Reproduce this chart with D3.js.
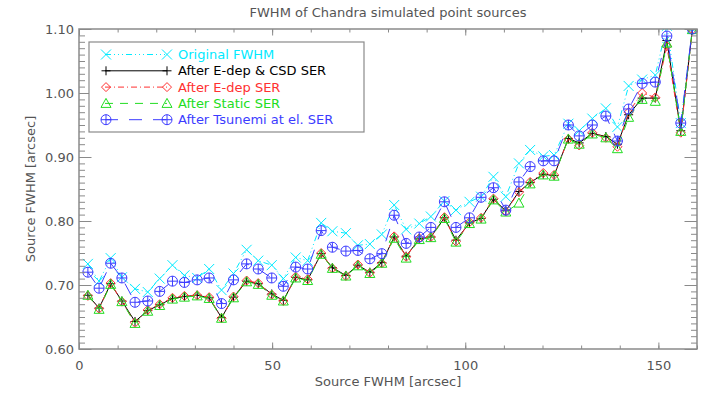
<!DOCTYPE html>
<html>
<head>
<meta charset="utf-8">
<script src="https://cdn.jsdelivr.net/npm/d3@7"></script>
<style>
body { margin: 0; background: #fff; }
text { font-family: "DejaVu Sans", sans-serif; }
</style>
</head>
<body>
<div id="fwhmPlot"></div>
<script>
// source FWHM of each simulated source (x)
const sourceFwhm = [2.3, 5.2, 8.2, 11.1, 14.5, 17.8, 20.9, 24.2, 27.3, 30.6, 33.7, 36.9, 40.0, 43.4, 46.4, 49.9,
    52.9, 56.1, 59.2, 62.7, 65.6, 69.1, 72.2, 75.3, 78.4, 81.6, 84.7, 88.1, 91.1, 94.6, 97.6, 101.1, 104.1,
    107.3, 110.5, 113.9, 116.8, 120.2, 123.0, 126.7, 129.5, 132.9, 136.4, 139.4, 142.3, 145.8, 149.2, 152.2,
    155.8, 158.8]

const originalFwhm = [0.733, 0.706, 0.742, 0.712, 0.694, 0.689, 0.710, 0.731, 0.715, 0.711, 0.725, 0.692, 0.718,
    0.755, 0.738, 0.731, 0.710, 0.743, 0.738, 0.797, 0.784, 0.781, 0.762, 0.764, 0.779, 0.825, 0.787, 0.796, 0.807,
    0.831, 0.817, 0.830, 0.838, 0.869, 0.838, 0.890, 0.911, 0.901, 0.903, 0.952, 0.941, 0.960, 0.976, 0.947, 1.011,
    1.021, 1.028, 1.105, 0.953, 1.100]

const edepCsdSer = [0.684, 0.664, 0.702, 0.675, 0.643, 0.660, 0.669, 0.679, 0.682, 0.684, 0.680, 0.649, 0.681,
    0.706, 0.702, 0.686, 0.676, 0.712, 0.708, 0.749, 0.727, 0.715, 0.731, 0.720, 0.735, 0.775, 0.745, 0.772, 0.775,
    0.805, 0.770, 0.797, 0.804, 0.834, 0.816, 0.846, 0.860, 0.873, 0.871, 0.929, 0.922, 0.937, 0.932, 0.920, 0.966,
    0.992, 0.992, 1.082, 0.941, 1.099]

const edepSer = [0.683, 0.663, 0.703, 0.674, 0.641, 0.661, 0.670, 0.680, 0.683, 0.684, 0.681, 0.648, 0.682,
    0.707, 0.703, 0.685, 0.675, 0.713, 0.709, 0.750, 0.726, 0.714, 0.732, 0.719, 0.734, 0.776, 0.744, 0.773, 0.775,
    0.806, 0.768, 0.798, 0.805, 0.835, 0.815, 0.845, 0.861, 0.875, 0.872, 0.928, 0.918, 0.938, 0.930, 0.916, 0.970,
    1.000, 0.993, 1.073, 0.938, 1.099]

const staticSer = [0.684, 0.662, 0.701, 0.674, 0.640, 0.659, 0.668, 0.678, 0.681, 0.683, 0.679, 0.648, 0.680,
    0.705, 0.701, 0.684, 0.675, 0.711, 0.707, 0.748, 0.726, 0.714, 0.730, 0.718, 0.734, 0.773, 0.742, 0.771, 0.774,
    0.804, 0.767, 0.796, 0.803, 0.833, 0.814, 0.828, 0.858, 0.872, 0.870, 0.928, 0.920, 0.936, 0.930, 0.913, 0.962,
    0.990, 0.987, 1.078, 0.940, 1.099]

const tsunemiSer = [0.720, 0.695, 0.734, 0.711, 0.673, 0.675, 0.690, 0.706, 0.704, 0.708, 0.711, 0.671, 0.708,
    0.733, 0.725, 0.711, 0.698, 0.728, 0.725, 0.785, 0.759, 0.753, 0.754, 0.741, 0.749, 0.809, 0.765, 0.775, 0.790,
    0.830, 0.790, 0.805, 0.837, 0.852, 0.817, 0.861, 0.885, 0.894, 0.894, 0.950, 0.933, 0.950, 0.964, 0.925, 0.975,
    1.015, 1.017, 1.089, 0.953, 1.100]

const seriesNames = ["Original FWHM", "After E-dep & CSD SER", "After E-dep SER", "After Static SER", "After Tsunemi at el. SER"]
const xTicks = [0, 50, 100, 150]
const yTicks = [0.60, 0.70, 0.80, 0.90, 1.00, 1.10]

const series = [
    { name: seriesNames[0], values: originalFwhm, color: "#00eaff", dash: "6,3,1,3,1,3,1,3", sym: "x" },
    { name: seriesNames[1], values: edepCsdSer, color: "#000000", dash: null, sym: "plus" },
    { name: seriesNames[2], values: edepSer, color: "#ff3030", dash: "6,3,1,3", sym: "diamond" },
    { name: seriesNames[3], values: staticSer, color: "#22dd22", dash: "8,7", sym: "triangle" },
    { name: seriesNames[4], values: tsunemiSer, color: "#3c3cff", dash: "13,11", sym: "circleplus" }
]

const margin = { top: 29, right: 23, bottom: 51, left: 79 },
    width = 720 - margin.left - margin.right,
    height = 400 - margin.top - margin.bottom

const x = d3.scaleLinear().domain([0, 160]).range([0, width])
const y = d3.scaleLinear().domain([0.6, 1.1]).range([height, 0])

const axisColor = "#8a8a8a", textColor = "#555"

const svg = d3.select("#fwhmPlot").append("svg")
    .attr("width", 720)
    .attr("height", 400)

const plot = svg.append("g")
    .attr("transform", "translate(" + margin.left + "," + margin.top + ")")

// marker shapes, IDL style
const symbolPath = (sym) => {
    switch (sym) {
        case "x": return "M-5,-5L5,5M-5,5L5,-5"
        case "plus": return "M-4.5,0L4.5,0M0,-4.5L0,4.5"
        case "diamond": return "M0,-4.5L4.5,0L0,4.5L-4.5,0Z"
        case "triangle": return "M0,-5L5,4L-5,4Z"
        case "circleplus": return "M-5,0L5,0M0,-5L0,5"
    }
}

const drawMarker = (g, sym, color) => {
    if (sym === "circleplus") {
        g.append("circle").attr("r", 5).attr("fill", "none").attr("stroke", color)
    }
    g.append("path").attr("d", symbolPath(sym)).attr("fill", "none").attr("stroke", color)
}

svg.append("defs").append("clipPath").attr("id", "plotClip")
    .append("rect").attr("width", width).attr("height", height)

const line = d3.line()
    .x((d, i) => x(sourceFwhm[i]))
    .y(d => y(d))

const dataLayer = plot.append("g").attr("clip-path", "url(#plotClip)")

series.forEach(s => {
    dataLayer.append("path")
        .datum(s.values)
        .attr("d", line)
        .attr("fill", "none")
        .attr("stroke", s.color)
        .attr("stroke-width", 1)
        .attr("stroke-dasharray", s.dash)

    s.values.forEach((v, i) => {
        const m = dataLayer.append("g")
            .attr("transform", "translate(" + x(sourceFwhm[i]) + "," + y(v) + ")")
        drawMarker(m, s.sym, s.color)
    })
})

// axes: major + minor ticks on all four sides, pointing inward
const styleAxis = (g) => {
    g.select(".domain").remove()
    g.selectAll(".tick line").attr("stroke", axisColor)
    g.selectAll(".tick text").attr("fill", textColor).style("font-size", "13px")
}

plot.append("g")
    .attr("transform", "translate(0," + height + ")")
    .call(d3.axisBottom(x).tickValues(d3.range(0, 161, 10)).tickSize(-3.5).tickFormat(""))
    .call(styleAxis)
plot.append("g")
    .attr("transform", "translate(0," + height + ")")
    .call(d3.axisBottom(x).tickValues(xTicks).tickSize(-6.5).tickPadding(12).tickFormat(d3.format("d")))
    .call(styleAxis)
plot.append("g")
    .call(d3.axisTop(x).tickValues(d3.range(0, 161, 10)).tickSize(-3.5).tickFormat(""))
    .call(styleAxis)
plot.append("g")
    .call(d3.axisTop(x).tickValues(xTicks).tickSize(-6.5).tickFormat(""))
    .call(styleAxis)

plot.append("g")
    .call(d3.axisLeft(y).tickValues(d3.range(60, 111).map(d => d / 100)).tickSize(-6).tickFormat(""))
    .call(styleAxis)
plot.append("g")
    .call(d3.axisLeft(y).tickValues(yTicks).tickSize(-12.5).tickPadding(5).tickFormat(d3.format(".2f")))
    .call(styleAxis)
plot.append("g")
    .attr("transform", "translate(" + width + ",0)")
    .call(d3.axisRight(y).tickValues(d3.range(60, 111).map(d => d / 100)).tickSize(-6).tickFormat(""))
    .call(styleAxis)
plot.append("g")
    .attr("transform", "translate(" + width + ",0)")
    .call(d3.axisRight(y).tickValues(yTicks).tickSize(-12.5).tickFormat(""))
    .call(styleAxis)

// frame
plot.append("rect")
    .attr("width", width)
    .attr("height", height)
    .attr("fill", "none")
    .attr("stroke", axisColor)
    .attr("stroke-width", 1.5)

// title and axis labels
svg.append("text")
    .attr("x", margin.left + width / 2)
    .attr("y", 17)
    .attr("text-anchor", "middle")
    .attr("fill", textColor)
    .style("font-size", "13px")
    .text("FWHM of Chandra simulated point sources")

svg.append("text")
    .attr("x", margin.left + width / 2)
    .attr("y", 386)
    .attr("text-anchor", "middle")
    .attr("fill", textColor)
    .style("font-size", "13px")
    .text("Source FWHM [arcsec]")

svg.append("text")
    .attr("transform", "translate(35," + (margin.top + height / 2) + ") rotate(-90)")
    .attr("text-anchor", "middle")
    .attr("fill", textColor)
    .style("font-size", "13px")
    .text("Source FWHM [arcsec]")

// legend
const legend = svg.append("g").attr("transform", "translate(89,42)")
legend.append("rect")
    .attr("width", 275)
    .attr("height", 90)
    .attr("fill", "#fff")
    .attr("stroke", axisColor)
    .attr("stroke-width", 1.2)

series.forEach((s, i) => {
    const row = legend.append("g").attr("transform", "translate(0," + (12.5 + i * 16.3) + ")")
    row.append("line")
        .attr("x1", 16).attr("x2", 78)
        .attr("stroke", s.color)
        .attr("stroke-dasharray", s.dash)
    drawMarker(row.append("g").attr("transform", "translate(17,0)"), s.sym, s.color)
    drawMarker(row.append("g").attr("transform", "translate(78,0)"), s.sym, s.color)
    row.append("text")
        .attr("x", 89)
        .attr("dy", "0.36em")
        .attr("fill", s.color)
        .style("font-size", "13px")
        .text(s.name)
})
</script>
</body>
</html>
